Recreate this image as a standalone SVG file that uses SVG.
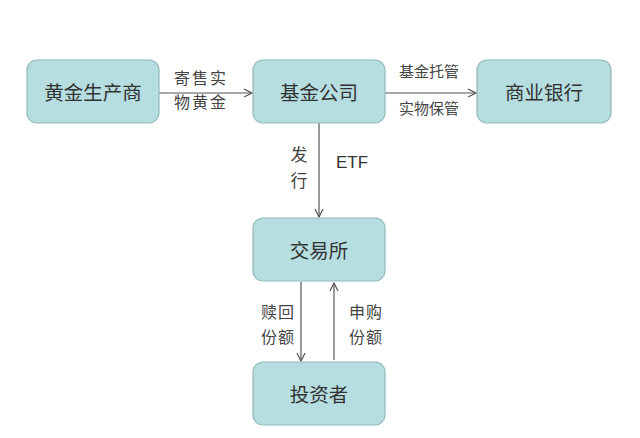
<svg xmlns="http://www.w3.org/2000/svg" width="640" height="438" viewBox="0 0 640 438">
<defs>
<style>
.box{fill:#b6dee0;stroke:#93b9ba;stroke-width:1.2}
.bt{font-family:"Noto Sans CJK SC",sans-serif;font-size:19.5px;fill:#333;text-anchor:middle;dominant-baseline:central}
.lb{font-family:"Noto Sans CJK SC",sans-serif;fill:#444;text-anchor:middle}
.ln{stroke:#555;stroke-width:1.2;fill:none}
</style>
<marker id="ah" viewBox="0 0 10 10" refX="9" refY="5" markerWidth="10" markerHeight="10" markerUnits="userSpaceOnUse" orient="auto">
<path d="M1,1 L9,5 L1,9" fill="none" stroke="#555" stroke-width="1.2"/>
</marker>
</defs>
<rect width="640" height="438" fill="#fff"/>
<g id="connectors">
<line class="ln" x1="159" y1="93" x2="252" y2="93" marker-end="url(#ah)"/>
<line class="ln" x1="385" y1="93" x2="476" y2="93" marker-end="url(#ah)"/>
<line class="ln" x1="319" y1="123" x2="319" y2="217" marker-end="url(#ah)"/>
<line class="ln" x1="301" y1="282" x2="301" y2="361" marker-end="url(#ah)"/>
<line class="ln" x1="334" y1="360" x2="334" y2="283" marker-end="url(#ah)"/>
<text class="lb" x="201" y="84" style="font-size:16px;letter-spacing:2px">寄售实</text>
<text class="lb" x="201" y="108" style="font-size:16px;letter-spacing:2px">物黄金</text>
<text class="lb" x="429" y="77" style="font-size:15px">基金托管</text>
<text class="lb" x="429" y="114" style="font-size:15px">实物保管</text>
<text class="lb" x="299" y="161" style="font-size:17px">发</text>
<text class="lb" x="299" y="187" style="font-size:17px">行</text>
<text x="336" y="168" font-family="Liberation Sans,sans-serif" font-size="17" fill="#333">ETF</text>
<text class="lb" x="278" y="318" style="font-size:16px;letter-spacing:1px">赎回</text>
<text class="lb" x="278" y="343" style="font-size:16px;letter-spacing:1px">份额</text>
<text class="lb" x="366" y="318" style="font-size:16px;letter-spacing:1px">申购</text>
<text class="lb" x="366" y="343" style="font-size:16px;letter-spacing:1px">份额</text>
</g>
<g id="producer"><rect class="box" x="27" y="60" width="132" height="63" rx="10"/><text class="bt" x="93" y="91.5">黄金生产商</text></g>
<g id="fund"><rect class="box" x="253" y="60" width="132" height="63" rx="10"/><text class="bt" x="319" y="91.5">基金公司</text></g>
<g id="bank"><rect class="box" x="477" y="60" width="134" height="63" rx="10"/><text class="bt" x="544" y="91.5">商业银行</text></g>
<g id="exchange"><rect class="box" x="253" y="218" width="132" height="63" rx="10"/><text class="bt" x="319" y="249.5">交易所</text></g>
<g id="investor"><rect class="box" x="253" y="362" width="132" height="63" rx="10"/><text class="bt" x="319" y="393.5">投资者</text></g>
</svg>
